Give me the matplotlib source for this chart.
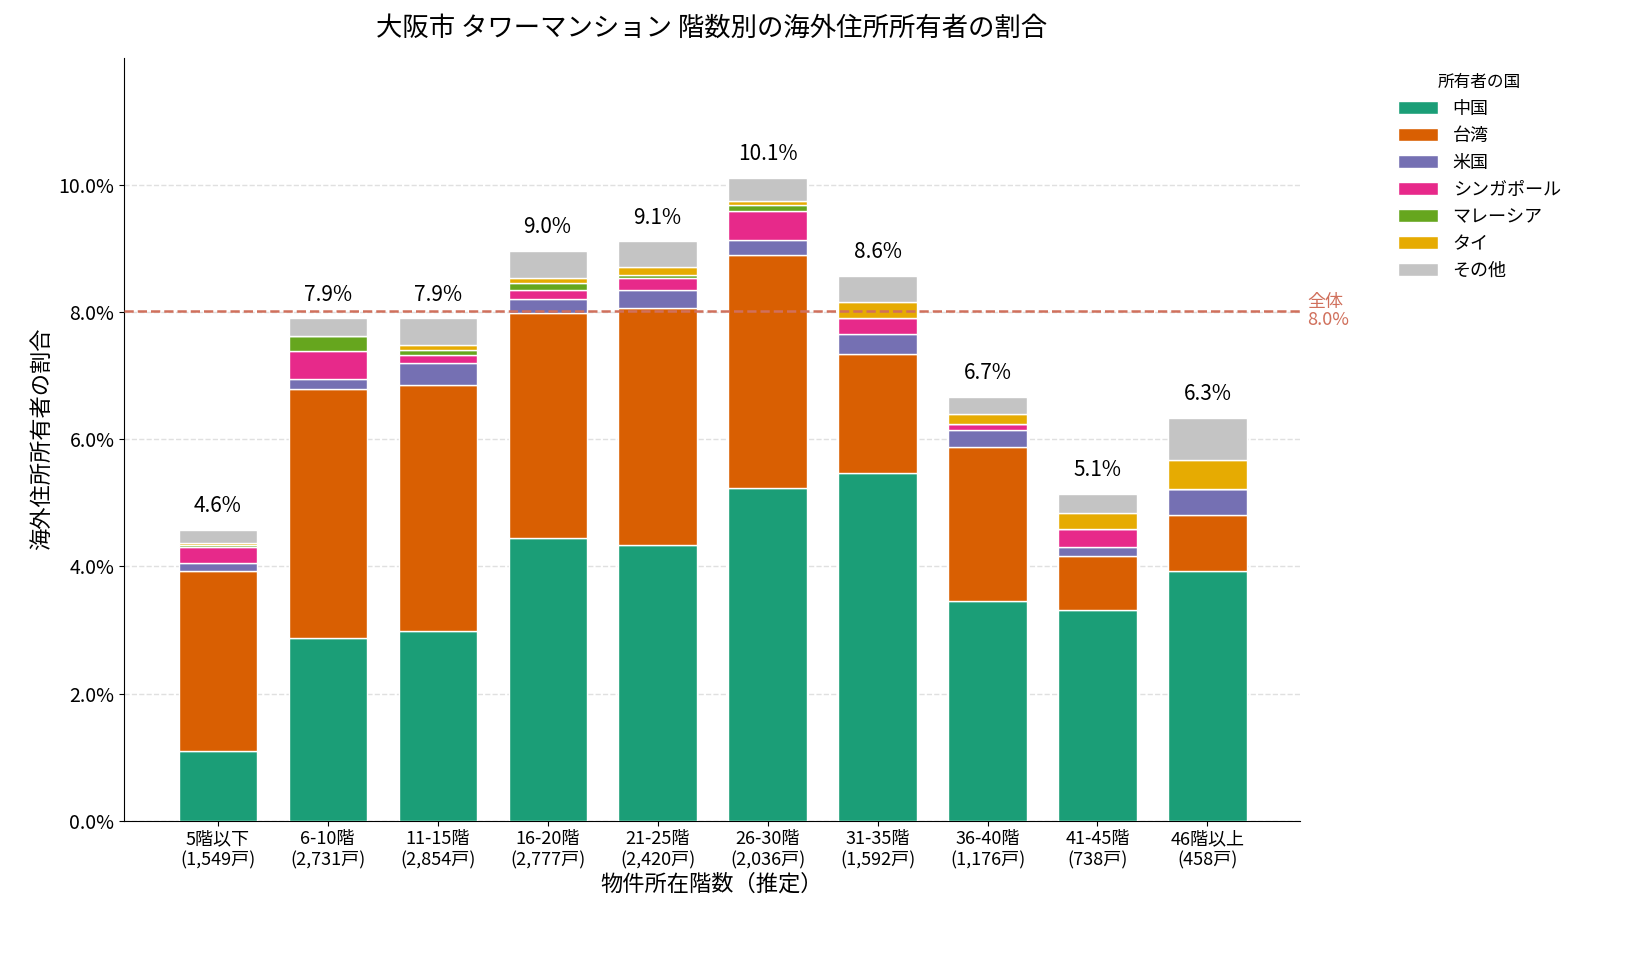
import matplotlib
matplotlib.use("Agg")
import matplotlib.pyplot as plt
import numpy as np

plt.rcParams['font.family'] = ['Noto Sans CJK JP', 'DejaVu Sans']

floors = ["5階以下", "6-10階", "11-15階", "16-20階", "21-25階", "26-30階", "31-35階", "36-40階", "41-45階", "46階以上"]
units = ["1,549", "2,731", "2,854", "2,777", "2,420", "2,036", "1,592", "1,176", "738", "458"]
countries = ["中国", "台湾", "米国", "シンガポール", "マレーシア", "タイ", "その他"]
china     = [1.10, 2.88, 2.99, 4.44, 4.34, 5.24, 5.47, 3.45, 3.31, 3.92]
taiwan    = [2.83, 3.91, 3.86, 3.55, 3.72, 3.65, 1.87, 2.43, 0.86, 0.88]
usa       = [0.13, 0.15, 0.35, 0.21, 0.28, 0.25, 0.32, 0.26, 0.14, 0.42]
singapore = [0.25, 0.44, 0.13, 0.15, 0.20, 0.45, 0.24, 0.10, 0.27, 0.00]
malaysia  = [0.02, 0.24, 0.07, 0.11, 0.04, 0.10, 0.00, 0.00, 0.00, 0.00]
thai      = [0.04, 0.00, 0.08, 0.07, 0.13, 0.05, 0.26, 0.15, 0.26, 0.45]
other     = [0.20, 0.28, 0.42, 0.43, 0.40, 0.37, 0.41, 0.28, 0.30, 0.66]
overall = 8.02
colors = ["#1b9e77", "#d95f02", "#7570b3", "#e7298a", "#66a61e", "#e6ab02", "#c4c4c4"]

series = [china, taiwan, usa, singapore, malaysia, thai, other]
fig = plt.figure(figsize=(16.33, 9.61), dpi=100)
ax = fig.add_axes([0.076, 0.146, 0.72, 0.794])
x = np.arange(len(floors))
bottom = np.zeros(len(floors))
for name, vals, c in zip(countries, series, colors):
    v = np.array(vals)
    ax.bar(x, v, bottom=bottom, width=0.71, color=c, edgecolor="white", linewidth=1, label=name, zorder=3)
    bottom += v
for xi, t in zip(x, bottom):
    ax.text(xi, t + 0.2, f"{t:.1f}%", ha="center", va="bottom", fontsize=15)

ax.axhline(overall, color="#d0705c", linestyle="--", linewidth=1.8, zorder=4)
ax.text(1.006, overall, f"全体\n{overall:.1f}%", color="#d0705c", fontsize=13, va="center", ha="left",
        transform=ax.get_yaxis_transform(), linespacing=1.0)

ax.set_ylim(0, 12)
ax.set_xlim(-0.85, len(floors) - 0.16)
ax.set_yticks(np.arange(0, 11, 2))
ax.set_yticklabels([f"{v:.1f}%" for v in np.arange(0, 11, 2)], fontsize=14)
ax.set_xticks(x)
ax.set_xticklabels([f"{f}\n({u}戸)" for f, u in zip(floors, units)], fontsize=13)
ax.yaxis.grid(True, linestyle="--", color="#e0e0e0", linewidth=1, zorder=0)
for s in ["top", "right"]:
    ax.spines[s].set_visible(False)
ax.set_ylabel("海外住所所有者の割合", fontsize=16)
ax.set_xlabel("物件所在階数（推定）", fontsize=16, labelpad=2)
ax.set_title("大阪市 タワーマンション 階数別の海外住所所有者の割合", fontsize=19, pad=16)
leg = ax.legend(title="所有者の国", loc="upper left", bbox_to_anchor=(1.07, 1.0), frameon=False,
                fontsize=13, title_fontsize=12, handlelength=2.2, handleheight=0.7)
fig.savefig("out.png", dpi=100)
